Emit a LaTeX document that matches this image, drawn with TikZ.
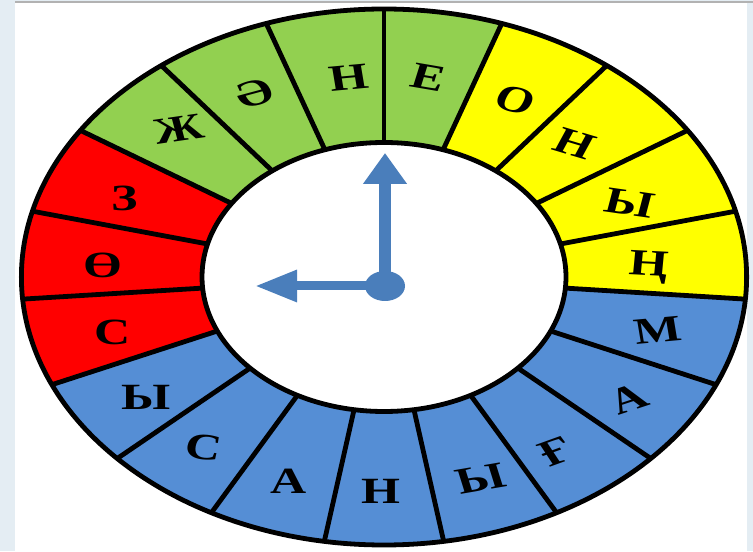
\documentclass[tikz,border=0pt]{standalone}
\usepackage{fontspec}
\setmainfont{Liberation Serif}
\usepackage{xcolor}
\usetikzlibrary{arrows.meta}

\definecolor{ringgreen}{RGB}{146,208,80}
\definecolor{ringyellow}{RGB}{255,255,0}
\definecolor{ringred}{RGB}{255,0,0}
\definecolor{ringblue}{RGB}{85,142,213}
\definecolor{handblue}{RGB}{74,126,187}
\definecolor{pageedge}{RGB}{228,237,243}

\begin{document}
\begin{tikzpicture}[x=0.5pt,y=0.5pt,
  spoke/.style={line width=2.4pt},
  rim/.style={line width=2.4pt},
  letter/.style={font=\bfseries\fontsize{18.5}{18.5}\selectfont,inner sep=0pt,transform shape},
  hand/.style={handblue}]

\useasboundingbox (0,0) rectangle (753,551);
\fill[pageedge] (0,0) rectangle (753,551);
\fill[white] (15,0) rectangle (747,548);
\draw[gray!60,line width=1pt] (15,548.5) -- (753,548.5);

\begin{scope}[shift={(384,274)},xscale=1.353]
% coloured sectors
\foreach \col [count=\k from 0] in {ringgreen,ringyellow,ringyellow,ringyellow,ringyellow,
  ringblue,ringblue,ringblue,ringblue,ringblue,ringblue,ringblue,ringblue,
  ringred,ringred,ringred,ringgreen,ringgreen,ringgreen}
  \fill[\col] ({90-\k*360/19}:134.5) arc[start angle={90-\k*360/19}, end angle={90-(\k+1)*360/19}, radius=134.5]
    -- ({90-(\k+1)*360/19}:268) arc[start angle={90-(\k+1)*360/19}, end angle={90-\k*360/19}, radius=268] -- cycle;

% spokes and rims
\foreach \k in {0,...,18}
  \draw[spoke] ({90-\k*360/19}:134.5) -- ({90-\k*360/19}:268);
\draw[rim] (0,0) circle[radius=268];
\draw[rim] (0,0) circle[radius=134.5];

% letters
\foreach \ch/\a/\r/\t [count=\k] in {Е/80.7/202/-13, О/61.3/202/-20, Н/43.5/194/-22, Ы/22.3/196/-11,
  Ң/2.9/196/-4, М/-14.7/209/7, А/-34/218/24, Ғ/-53.7/216/26, Ы/-70.4/214/13, Н/-90.6/214/0,
  А/-109/216/0, С/-128/216/-8, Ы/-145.6/213/0, С/-164.6/208/0, Ө/176.7/208/0, З/157.6/207/0,
  Ж/135.8/212/11, Ә/117.7/207/20, Н/97.4/201/7}
  \node[letter,rotate=\t] (ch\k) at (\a:\r) {\ch};
\end{scope}

% clock hands
\coordinate (hub) at (385,265);
\coordinate (twelve) at (385,398);
\coordinate (nine) at (255,265);
\draw[hand,line width=6pt,-{Triangle[length=15.5pt,width=21pt]}] (hub) -- (twelve);
\draw[hand,line width=4.5pt,-{Triangle[length=21pt,width=15pt]}] (hub) -- (nine);
\fill[hand] (hub) ellipse[x radius=20, y radius=15];

\end{tikzpicture}
\end{document}
